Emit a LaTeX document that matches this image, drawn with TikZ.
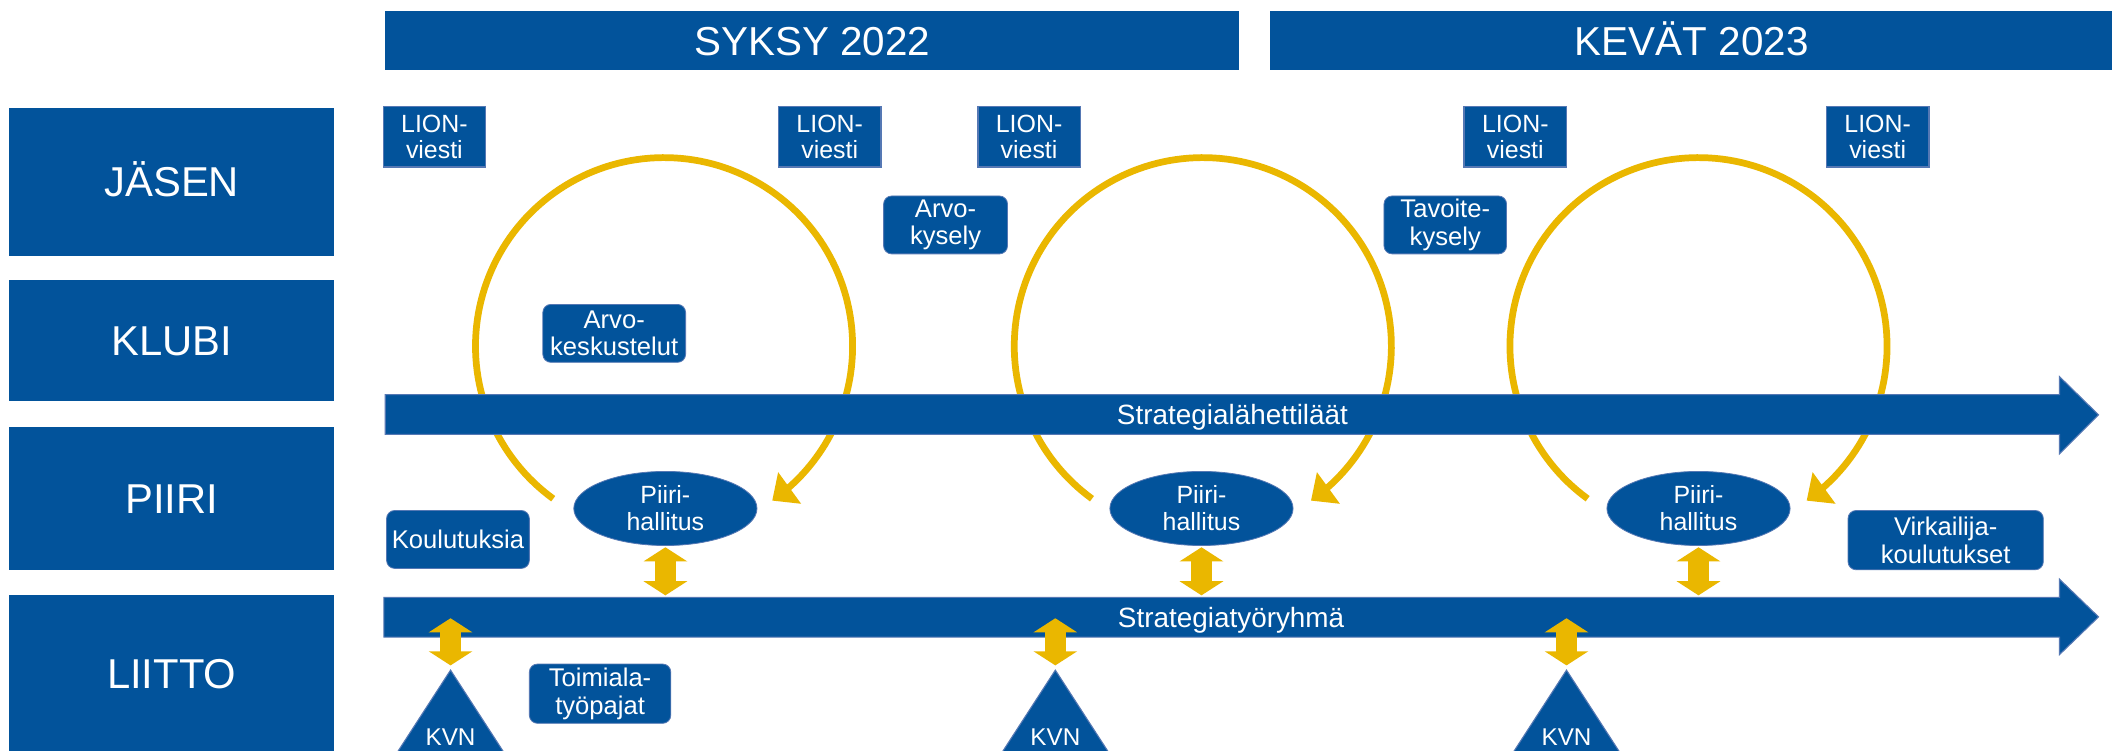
\documentclass[tikz,border=0pt]{standalone}
\usepackage{fontspec}
\setmainfont{Liberation Sans}
\usetikzlibrary{shapes.geometric,arrows.meta}
\definecolor{lblue}{RGB}{2,83,155}
\definecolor{edgeblue}{RGB}{85,120,180}
\definecolor{gold}{RGB}{234,183,0}
\begin{document}
\begin{tikzpicture}[x=1pt,y=-1pt,
  lane/.style={fill=lblue, text=white, inner sep=0pt, minimum width=241pt,
    text height=22pt, text depth=0pt, font=\fontsize{31}{36}\selectfont},
  hdr/.style={fill=lblue, text=white, inner sep=0pt, minimum height=44pt,
    text height=22pt, text depth=0pt, font=\fontsize{30}{36}\selectfont},
  lion/.style={fill=lblue, draw=edgeblue, line width=1pt, text=white, inner sep=0pt,
    minimum width=76pt, minimum height=45pt, align=center, font=\fontsize{18.5}{19}\selectfont},
  rbox/.style={fill=lblue, draw=edgeblue, line width=0.6pt, rounded corners=6pt, text=white,
    inner sep=0pt, minimum height=43pt, align=center, font=\fontsize{19}{20.5}\selectfont},
  piiri/.style={ellipse, fill=lblue, draw=edgeblue, line width=0.6pt, text=white, inner sep=0pt,
    minimum width=136pt, minimum height=55pt, align=center, font=\fontsize{18.5}{20}\selectfont},
  cyclearrow/.style={draw=gold, line width=5pt, -{Triangle[length=16pt,width=28pt]}},
  dbl/.style={draw=gold, line width=16pt,
    {Triangle[length=10.5pt,width=32pt]}-{Triangle[length=10.5pt,width=32pt]}},
  lanebar/.style={fill=lblue, draw=edgeblue, line width=0.8pt},
  bartext/.style={text=white, anchor=base, inner sep=0pt, font=\fontsize{20.7}{24}\selectfont},
  kvn/.style={fill=lblue, draw=edgeblue, line width=0.8pt},
  kvntext/.style={text=white, anchor=base, inner sep=0pt, font=\fontsize{18}{20}\selectfont}
]
\useasboundingbox (0,0) rectangle (1568,557);
\clip (0,0) rectangle (1568,557);
\fill[white] (0,0) rectangle (1568,557);

% headers
\node[hdr, minimum width=634pt] (syksy) at (603,30) {SYKSY 2022};
\node[hdr, minimum width=626pt] (kevat) at (1256,30) {KEVÄT 2023};

% lanes
\node[lane, minimum height=110pt] (jasen) at (127.5,135) {JÄSEN};
\node[lane, minimum height=90pt] (klubi) at (127.5,253) {KLUBI};
\node[lane, minimum height=106pt] (piiri) at (127.5,370) {PIIRI};
\node[lane, minimum height=117pt] (liitto) at (127.5,500.5) {LIITTO};

% cycle arrows
\draw[cyclearrow] plot[domain=126:415, samples=150] ({493+140*cos(\x)}, {257+140*sin(\x)});
\draw[cyclearrow] plot[domain=126:415, samples=150] ({893+140*cos(\x)}, {257+140*sin(\x)});
\draw[cyclearrow] plot[domain=126:415, samples=150] ({1261+140*cos(\x)}, {257+140*sin(\x)});

% bars
\fill[lanebar] (286,293) -- (1529,293) -- (1529,279.6) -- (1558,308) -- (1529,337) -- (1529,322.5) -- (286,322.5) -- cycle;
\node[bartext] (sl) at (915,315) {Strategialähettiläät};
\fill[lanebar] (285,443.5) -- (1529,443.5) -- (1529,430) -- (1558,458) -- (1529,486) -- (1529,473) -- (285,473) -- cycle;
\node[bartext] (st) at (914,466) {Strategiatyöryhmä};

% LION-viesti
\node[lion] (l1) at (322.5,101.5) {LION-\\viesti};
\node[lion] (l2) at (616,101.5) {LION-\\viesti};
\node[lion] (l3) at (764,101.5) {LION-\\viesti};
\node[lion] (l4) at (1125,101.5) {LION-\\viesti};
\node[lion] (l5) at (1394,101.5) {LION-\\viesti};

% rounded boxes
\node[rbox, minimum width=92pt] (arvok) at (702,167) {Arvo-\\kysely};
\node[rbox, minimum width=91pt] (tavoite) at (1073,167) {Tavoite-\\kysely};
\node[rbox, minimum width=106pt] (arvokesk) at (456,247.5) {Arvo-\\keskustelut};
\node[rbox, minimum width=106pt] (koul) at (340,400.5) {Koulutuksia};
\node[rbox, minimum width=145pt, minimum height=44pt] (virk) at (1444.5,401) {Virkailija-\\koulutukset};
\node[rbox, minimum width=105pt, minimum height=44pt] (toim) at (445.5,515) {Toimiala-\\työpajat};

% Piirihallitus
\node[piiri] (p1) at (494,377.5) {Piiri-\\hallitus};
\node[piiri] (p2) at (892,377.5) {Piiri-\\hallitus};
\node[piiri] (p3) at (1261,377.5) {Piiri-\\hallitus};

% KVN triangles
\coordinate (k1) at (334.5,497.5);
\coordinate (k2) at (783.5,497.5);
\coordinate (k3) at (1163,497.5);
\foreach \k in {k1,k2,k3}{
  \filldraw[kvn] (\k) -- ([xshift=-46pt,yshift=-71pt]\k) -- ([xshift=46pt,yshift=-71pt]\k) -- cycle;
}
\node[kvntext] (kv1) at (334.5,553.5) {KVN};
\node[kvntext] (kv2) at (783.5,553.5) {KVN};
\node[kvntext] (kv3) at (1163,553.5) {KVN};

% double arrows
\coordinate (bartop) at (0,442);
\coordinate (barin) at (0,459);
\draw[dbl] ([yshift=-1pt]p1.south) -- (p1.south |- bartop);
\draw[dbl] ([yshift=-1pt]p2.south) -- (p2.south |- bartop);
\draw[dbl] ([yshift=-1pt]p3.south) -- (p3.south |- bartop);
\draw[dbl] (k1 |- barin) -- ([yshift=3.5pt]k1);
\draw[dbl] (k2 |- barin) -- ([yshift=3.5pt]k2);
\draw[dbl] (k3 |- barin) -- ([yshift=3.5pt]k3);
\end{tikzpicture}
\end{document}
